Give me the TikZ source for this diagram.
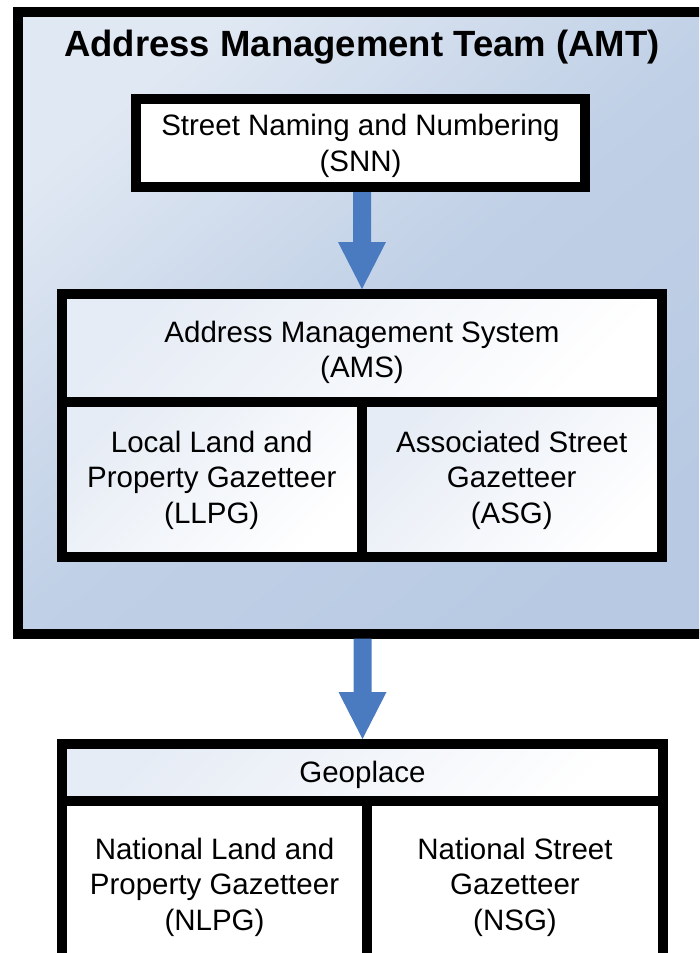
\documentclass[tikz,border=0pt]{standalone}
\usepackage{fontspec}
\setmainfont{Liberation Sans}
\usetikzlibrary{calc}
\definecolor{arrowblue}{HTML}{4A7AC0}
\definecolor{amtlight}{HTML}{E0E8F3}
\definecolor{amtmid}{HTML}{C0D0E6}
\definecolor{amtdark}{HTML}{B8CAE3}
\definecolor{celltint}{HTML}{E6ECF5}
\begin{document}
\begin{tikzpicture}[x=1pt,y=-1pt,
  frame/.style={draw=black, line width=10pt, rectangle, inner sep=0pt},
  tintcell/.style={frame, top color=celltint, bottom color=white, shading angle=45},
  plaincell/.style={frame, fill=white},
  txt/.style={align=center, inner sep=0pt, font=\fontsize{29.5}{35.5}\selectfont},
  blockarrow/.style={fill=arrowblue, to path={let \p1=(\tikztostart), \p2=(\tikztotarget) in
    (\x2-9pt,\y1) -- (\x2+9pt,\y1) -- (\x2+9pt,\y2+47pt) -- (\x2+24pt,\y2+47pt) --
    (\x2,\y2) -- (\x2-24pt,\y2+47pt) -- (\x2-9pt,\y2+47pt) -- cycle}}
]
\useasboundingbox (0,0) rectangle (699,953);
\clip (0,0) rectangle (699,953);

% outer team box
\node[frame, top color=amtlight, bottom color=amtdark, middle color=amtmid, shading angle=40,
  minimum width=712.5pt, minimum height=621.5pt] (amt) at (373.75,322.75) {};
\node[font=\bfseries\fontsize{36.5}{40}\selectfont] (amtTitle) at (362,47)
  {Address Management Team (AMT)};

% boxes
\node[plaincell, minimum width=449pt, minimum height=88pt] (snn) at (360.5,143) {};
\node[tintcell, minimum width=600pt, minimum height=107.5pt] (amsh) at (362,347.75) {};
\node[tintcell, minimum width=299.5pt, minimum height=155.5pt] (llpg) at (211.75,479.25) {};
\node[tintcell, minimum width=300.5pt, minimum height=155.5pt] (asg) at (511.75,479.25) {};
\node[tintcell, minimum width=601pt, minimum height=57pt] (geo) at (362.5,772.5) {};
\node[plaincell, minimum width=305pt, minimum height=166pt] (nlpg) at (214.5,884) {};
\node[plaincell, minimum width=296pt, minimum height=166pt] (nsg) at (515,884) {};

% texts
\node[txt] (snnText) at (360.5,146) {Street Naming and Numbering\\(SNN)};
\node[txt] (amsText) at (362,352.5) {Address Management System\\(AMS)};
\node[txt] (llpgText) at (211.75,480) {Local Land and\\Property Gazetteer\\(LLPG)};
\node[txt] (asgText) at (511.75,480) {Associated Street\\Gazetteer\\(ASG)};
\node[txt] (geoText) at (362.5,774.5) {Geoplace};
\node[txt] (nlpgText) at (214.5,887) {National Land and\\Property Gazetteer\\(NLPG)};
\node[txt] (nsgText) at (515,887) {National Street\\Gazetteer\\(NSG)};

% arrows
\path[blockarrow] (snn.south) to (amsh.north);
\path[blockarrow] (amt.south) to (geo.north);
\end{tikzpicture}
\end{document}
